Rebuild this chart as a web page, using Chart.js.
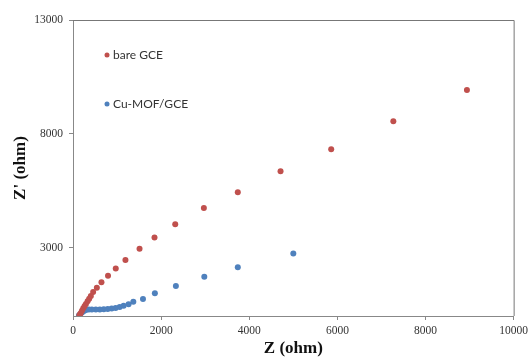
<!DOCTYPE html>
<html>
<head>
<meta charset="utf-8">
<script src="https://cdn.jsdelivr.net/npm/chart.js@4/dist/chart.umd.min.js"></script>
<style>
  html, body { margin: 0; padding: 0; background: #fff; }
  #wrap { width: 532px; height: 359px; }
</style>
</head>
<body>
<div id="wrap"><canvas id="nyquist"></canvas></div>
<script>
// Z (ohm) / Z' (ohm) pairs
const bareX = [8940, 7270, 5860, 4710, 3740, 2970, 2320, 1850, 1510, 1190, 970, 795, 646, 541, 457, 405, 367, 331, 293, 264, 232, 203, 173, 146];
const bareY = [9930, 8550, 7320, 6360, 5440, 4740, 4035, 3450, 2950, 2455, 2090, 1770, 1480, 1240, 1050, 877, 759, 645, 526, 439, 338, 232, 118, 44];
const mofX = [5000, 3740, 2980, 2335, 1858, 1588, 1369, 1261, 1149, 1059, 968, 878, 788, 698, 608, 518, 428, 360, 293, 248, 203, 158, 135];
const mofY = [2750, 2136, 1724, 1316, 995, 746, 627, 513, 452, 395, 351, 329, 307, 294, 285, 281, 281, 285, 263, 219, 154, 66, 22];
const yTicks = [3000, 8000, 13000];
const seriesNames = ['bare GCE', 'Cu-MOF/GCE'];

function toPoints(xs, ys) {
  return xs.map((x, i) => ({ x: x, y: ys[i] }));
}

// legend drawn inside the plot, plus the top/right frame
const framePlugin = {
  id: 'frame',
  afterDraw(chart) {
    const ctx = chart.ctx;
    const a = chart.chartArea;
    ctx.save();
    ctx.strokeStyle = '#777';
    ctx.lineWidth = 1;
    ctx.beginPath();
    ctx.moveTo(a.left, a.top + 0.5);
    ctx.lineTo(a.right + 0.5, a.top + 0.5);
    ctx.lineTo(a.right + 0.5, a.bottom);
    ctx.stroke();

    ctx.font = '12px Lato, "Noto Sans", sans-serif';
    ctx.textBaseline = 'middle';
    const rows = [55, 104];
    chart.data.datasets.forEach((ds, i) => {
      ctx.fillStyle = ds.backgroundColor;
      ctx.beginPath();
      ctx.arc(a.left + 34, rows[i], 2.5, 0, Math.PI * 2);
      ctx.fill();
      ctx.fillStyle = '#333';
      ctx.fillText(ds.label, a.left + 40, rows[i]);
    });
    ctx.restore();
  }
};

const plain = v => String(v);

const ctx = document.getElementById('nyquist').getContext('2d');
new Chart(ctx, {
  type: 'scatter',
  data: {
    datasets: [{
      label: seriesNames[0],
      data: toPoints(bareX, bareY),
      backgroundColor: '#C0504D',
      borderColor: '#C0504D',
      pointRadius: 3,
      pointBorderWidth: 0
    }, {
      label: seriesNames[1],
      data: toPoints(mofX, mofY),
      backgroundColor: '#4F81BD',
      borderColor: '#4F81BD',
      pointRadius: 3,
      pointBorderWidth: 0
    }]
  },
  options: {
    responsive: true,
    maintainAspectRatio: false,
    animation: false,
    layout: { padding: { top: 20, right: 15, left: 0, bottom: 0 } },
    plugins: {
      legend: { display: false },
      tooltip: { enabled: false }
    },
    scales: {
      x: {
        type: 'linear',
        min: 0,
        max: 10000,
        ticks: {
          stepSize: 2000,
          callback: plain,
          color: '#333',
          padding: 4,
          font: { family: '"Liberation Serif", serif', size: 11.5 }
        },
        grid: { drawOnChartArea: false, drawTicks: true, tickLength: 4, color: '#888' },
        border: { display: true, color: '#888' },
        title: {
          display: true,
          text: 'Z (ohm)',
          color: '#111',
          padding: { top: 0, bottom: 0 },
          font: { family: '"Liberation Serif", serif', size: 17, weight: 'bold' }
        },
        afterFit(scale) { scale.height = 43; }
      },
      y: {
        type: 'linear',
        min: 0,
        max: 13000,
        afterBuildTicks(scale) { scale.ticks = yTicks.map(v => ({ value: v })); },
        ticks: {
          callback: plain,
          color: '#333',
          padding: 6,
          font: { family: '"Liberation Serif", serif', size: 11.5 }
        },
        grid: { drawOnChartArea: false, drawTicks: true, tickLength: 4, color: '#888' },
        border: { display: true, color: '#888' },
        title: {
          display: true,
          text: "Z' (ohm)",
          color: '#111',
          padding: { top: 10, bottom: 0 },
          font: { family: '"Liberation Serif", serif', size: 17, weight: 'bold' }
        },
        afterFit(scale) { scale.width = 73; }
      }
    }
  },
  plugins: [framePlugin]
});
</script>
</body>
</html>
